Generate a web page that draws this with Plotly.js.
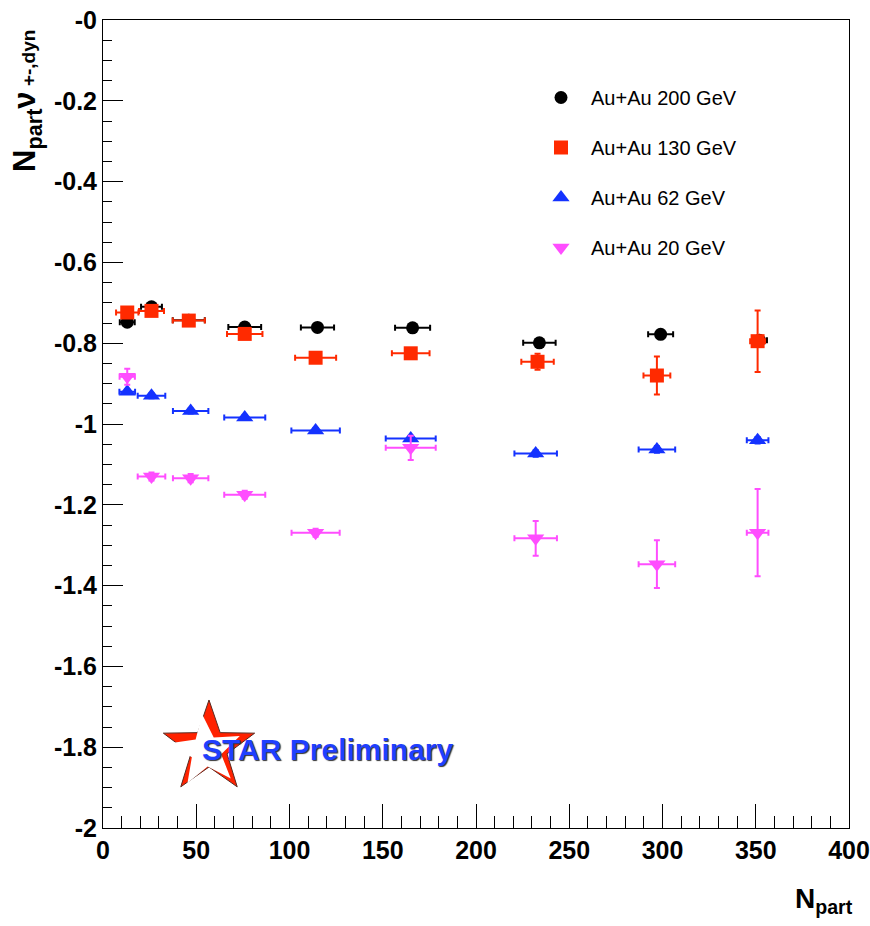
<!DOCTYPE html>
<html>
<head>
<meta charset="utf-8">
<script src="https://cdn.plot.ly/plotly-3.0.1.min.js"></script>
<style>
  html, body { margin: 0; padding: 0; background: #fff; }
  #chart { width: 870px; height: 926px; }
</style>
</head>
<body>
<div id="chart"></div>
<script>
// Dynamical net-charge fluctuations scaled by N_part, Au+Au at four energies
const npart200 = [13, 26, 46, 76, 115, 166, 234, 299, 352];
const nu200    = [-0.748, -0.710, -0.743, -0.760, -0.761, -0.762, -0.799, -0.778, -0.793];
const npartErr200 = [4, 5.6, 8.6, 8.8, 8.9, 9.4, 8.7, 6.7, 4];
const nuErr200    = [0.008, 0.008, 0.008, 0.008, 0.008, 0.008, 0.01, 0.01, 0.01];

const npart130 = [13, 26, 46, 76, 114, 165, 233, 297, 351];
const nu130    = [-0.724, -0.720, -0.744, -0.777, -0.836, -0.825, -0.846, -0.880, -0.795];
const npartErr130 = [6, 6.7, 8.6, 9.5, 11, 10.1, 8.7, 7.2, 4];
const nuErr130    = [0.01, 0.01, 0.01, 0.01, 0.01, 0.012, 0.02, 0.047, 0.076];

const npart62 = [13, 26, 47, 76, 114, 165, 232, 297, 351];
const nu62    = [-0.920, -0.930, -0.968, -0.984, -1.016, -1.036, -1.073, -1.063, -1.040];
const npartErr62 = [4.2, 7.4, 9.5, 11, 13, 13.4, 11.4, 9.8, 5.8];
const nuErr62    = [0.006, 0.006, 0.006, 0.006, 0.006, 0.006, 0.008, 0.008, 0.008];

const npart20 = [13, 26, 47, 76, 114, 165, 232, 297, 351];
const nu20    = [-0.883, -1.130, -1.134, -1.175, -1.269, -1.059, -1.283, -1.347, -1.269];
const npartErr20 = [4.1, 7.4, 9.5, 11, 12.9, 13.4, 11.4, 9.8, 5.8];
const nuErr20    = [0.02, 0.01, 0.01, 0.01, 0.01, 0.03, 0.043, 0.059, 0.108];

const seriesNames = ["Au+Au 200 GeV", "Au+Au 130 GeV", "Au+Au 62 GeV", "Au+Au 20 GeV"];

const yTickVals = [0, -0.2, -0.4, -0.6, -0.8, -1, -1.2, -1.4, -1.6, -1.8, -2];
const yTickText = ["-0", "-0.2", "-0.4", "-0.6", "-0.8", "-1", "-1.2", "-1.4", "-1.6", "-1.8", "-2"];
const xTickVals = [0, 50, 100, 150, 200, 250, 300, 350, 400];
const xTickText = ["0", "50", "100", "150", "200", "250", "300", "350", "400"];

const RED = "#ff2a00", BLUE = "#1432ff", MAGENTA = "#ff4dff", BLACK = "#000000";

function series(x, y, ex, ey, name, color, symbol, size, group) {
  return {
    type: "scatter", mode: "markers", name: name, legendgroup: group,
    x: x, y: y,
    marker: { color: color, symbol: symbol, size: size, line: { width: 0 } },
    error_x: { type: "data", array: ex, visible: true, color: color, thickness: 2, width: 3 },
    error_y: { type: "data", array: ey, visible: true, color: color, thickness: 2, width: 3 },
    cliponaxis: false
  };
}

const traces = [
  series(npart200, nu200, npartErr200, nuErr200, seriesNames[0], BLACK, "circle", 13, "g1"),
  series(npart130, nu130, npartErr130, nuErr130, seriesNames[1], RED, "square", 14, "g2"),
  series(npart62, nu62, npartErr62, nuErr62, seriesNames[2], BLUE, "triangle-up", 15, "g3"),
  series(npart20, nu20, npartErr20, nuErr20, seriesNames[3], MAGENTA, "triangle-down", 15, "g4")
];

// Plot-area geometry in pixels, used to place the logo star in paper units
const L = 103, T = 20, W = 746, H = 808;
function toPaperX(px) { return (px - L) / W; }
function toPaperY(py) { return (T + H - py) / H; }
function starPath(cx, cy, R, r, rot) {
  let d = "";
  for (let i = 0; i < 10; i++) {
    const rad = (i % 2 === 0) ? R : r;
    const a = (-90 + rot + i * 36) * Math.PI / 180;
    const px = cx + rad * Math.cos(a), py = cy + rad * Math.sin(a);
    d += (i === 0 ? "M " : " L ") + toPaperX(px).toFixed(5) + "," + toPaperY(py).toFixed(5);
  }
  return d + " Z";
}

const sans = "Liberation Sans, Arial, Helvetica, sans-serif";

const layout = {
  width: 870, height: 926,
  margin: { l: L, r: 870 - L - W, t: T, b: 926 - T - H },
  paper_bgcolor: "#ffffff", plot_bgcolor: "#ffffff",
  showlegend: true,
  legend: {
    x: toPaperX(531), y: toPaperY(78), xanchor: "left", yanchor: "top",
    font: { family: sans, size: 20, color: "#000" },
    bgcolor: "rgba(0,0,0,0)", borderwidth: 0,
    tracegroupgap: 21, itemwidth: 50
  },
  xaxis: {
    range: [-0.0001, 400.0001], showgrid: false, zeroline: false,
    showline: true, linecolor: "#000", linewidth: 1, mirror: true,
    ticks: "inside", ticklen: 24, tickwidth: 1, tickcolor: "#000",
    tickmode: "array", tickvals: xTickVals, ticktext: xTickText,
    ticklabeloverflow: "allow",
    tickfont: { family: sans, size: 25, color: "#000", weight: "bold" },
    minor: { ticks: "inside", ticklen: 12, tickwidth: 1, tickcolor: "#000", dtick: 10, tick0: 0, showgrid: false }
  },
  yaxis: {
    range: [-2, 0], showgrid: false, zeroline: false,
    showline: true, linecolor: "#000", linewidth: 1, mirror: true,
    ticks: "inside", ticklen: 20, tickwidth: 1, tickcolor: "#000",
    tickmode: "array", tickvals: yTickVals, ticktext: yTickText,
    ticklabeloverflow: "allow",
    tickfont: { family: sans, size: 25, color: "#000", weight: "bold" },
    minor: { ticks: "inside", ticklen: 9, tickwidth: 1, tickcolor: "#000", dtick: 0.05, tick0: 0, showgrid: false }
  },
  shapes: [
    { type: "path", xref: "paper", yref: "paper", path: starPath(209, 748, 48, 19, 0),
      fillcolor: "#ff2200", line: { color: "#5a2a20", width: 1 } },
    { type: "path", xref: "paper", yref: "paper", path: starPath(206, 751, 37, 15.5, -6),
      fillcolor: "#ffffff", line: { width: 0 } }
  ],
  annotations: [
    { xref: "paper", yref: "paper", x: toPaperX(328), y: toPaperY(749),
      text: "STAR Preliminary", showarrow: false, xanchor: "center", yanchor: "middle",
      font: { family: sans, size: 30, color: "#1f3fff", weight: "bold", shadow: "1px 1px 1px #333" } },
    { xref: "paper", yref: "paper", x: toPaperX(27), y: toPaperY(101),
      text: "N<sub>part</sub>ν<span style=\"font-size:19px\"> +-,dyn</span>", textangle: -90,
      showarrow: false, xanchor: "center", yanchor: "middle",
      font: { family: sans, size: 31, color: "#000", weight: "bold" } },
    { xref: "paper", yref: "paper", x: toPaperX(824), y: toPaperY(900),
      text: "N<sub>part</sub>", showarrow: false, xanchor: "center", yanchor: "middle",
      font: { family: sans, size: 28, color: "#000", weight: "bold" } }
  ]
};

Plotly.newPlot("chart", traces, layout, { displayModeBar: false, staticPlot: true });
</script>
</body>
</html>
